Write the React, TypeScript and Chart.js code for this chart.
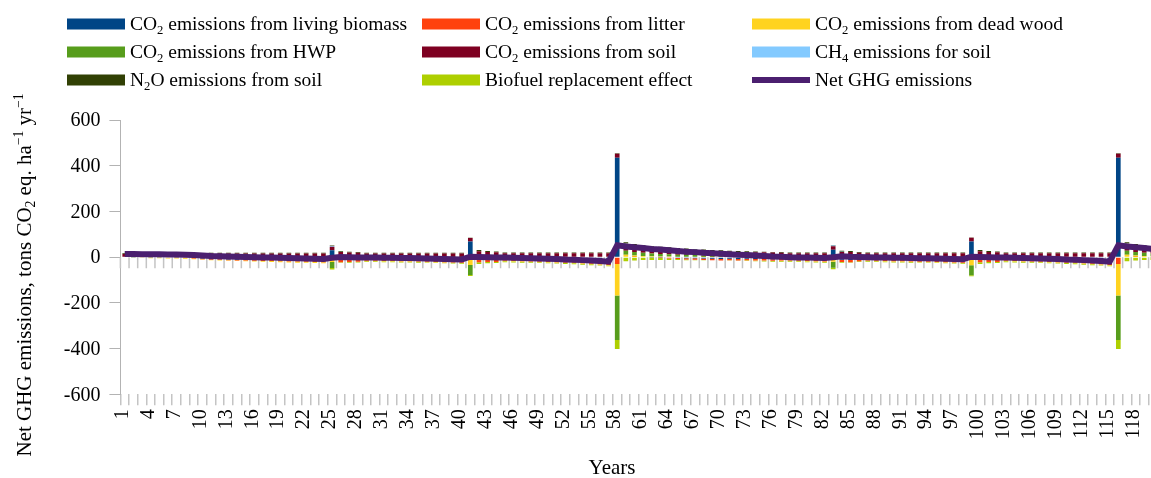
import { useEffect, useRef } from 'react';
import { Chart, registerables } from 'chart.js';

Chart.register(...registerables);

// Simulation years (x axis categories)
const years = [
  '1','2','3','4','5','6','7','8','9','10','11','12','13','14','15','16','17','18','19','20',
  '21','22','23','24','25','26','27','28','29','30','31','32','33','34','35','36','37','38','39','40',
  '41','42','43','44','45','46','47','48','49','50','51','52','53','54','55','56','57','58','59','60',
  '61','62','63','64','65','66','67','68','69','70','71','72','73','74','75','76','77','78','79','80',
  '81','82','83','84','85','86','87','88','89','90','91','92','93','94','95','96','97','98','99','100',
  '101','102','103','104','105','106','107','108','109','110','111','112','113','114','115','116','117','118','119','120',
];

// Component fluxes, tons CO2 eq. ha-1 yr-1 (positive = emission)
const livingBiomass = [
  -3, -2, -3, -2, -2, -3, -2, -3, -4, -6,
  -9, -9, -10, -11, -11, -12, -13, -13, -14, -15,
  -15, -16, -17, -18, 30, -12, -13, -13, -11, -11,
  -12, -12, -13, -13, -14, -15, -16, -17, -18, -19,
  68, -10, -10, -11, -9, -10, -11, -12, -13, -14,
  -15, -17, -18, -20, -22, -24, -27, 435, 0, 0,
  0, -1, -2, -3, -4, -5, -5, -6, -7, -8,
  -7, -8, -7, -8, -8, -9, -8, -8, -9, -10,
  -11, -12, 32, -11, -13, -10, -10, -11, -12, -13,
  -13, -14, -15, -15, -16, -17, -18, -19, 68, -10,
  -10, -11, -9, -10, -11, -12, -13, -14, -15, -17,
  -18, -20, -22, -24, -27, 435, 0, 0, 0, -1,
];
const litter = [
  0, 0, 0, 0, 0, 0, -1, -1, -2, -3,
  -3, -4, -4, -4, -4, -4, -4, -4, -4, -4,
  -4, -4, -4, -4, -4, -10, -8, -7, -5, -5,
  -5, -5, -5, -5, -5, -5, -5, -5, -5, -5,
  -5, -12, -11, -10, -7, -7, -7, -7, -7, -7,
  -7, -7, -7, -7, -7, -7, -7, -30, 2, 1,
  0, -1, -2, -3, -4, -5, -6, -7, -7, -7,
  -7, -7, -7, -7, -7, -7, -7, -7, -7, -7,
  -7, -7, -3, -10, -9, -8, -5, -5, -5, -5,
  -5, -5, -5, -5, -5, -5, -5, -5, -6, -12,
  -11, -10, -7, -7, -7, -7, -7, -7, -7, -7,
  -7, -7, -7, -7, -7, -30, 2, 1, 0, -1,
];
const deadWood = [
  0, -1, -1, -3, -3, -3, -3, -3, -3, -2,
  -2, -2, -2, -2, -3, -3, -3, -4, -4, -4,
  -5, -5, -5, -5, -17, 2, 1, 1, -2, -2,
  -2, -2, -2, -2, -2, -2, -2, -2, -2, -2,
  -29, 3, 2, 2, -2, -2, -2, -2, -2, -2,
  -2, -2, -2, -2, -2, -2, -2, -138, 8, 6,
  5, 4, 3, 3, 2, 2, 2, 1, 1, 1,
  0, 0, -1, -1, -1, -1, -2, -2, -2, -2,
  -2, -2, -17, 2, 2, 1, -2, -2, -2, -2,
  -2, -2, -2, -2, -2, -2, -2, -2, -29, 3,
  2, 2, -2, -2, -2, -2, -2, -2, -2, -2,
  -2, -2, -2, -2, -2, -138, 8, 6, 5, 4,
];
const hwp = [
  0, 0, 0, 0, 0, 0, 0, 0, 0, 0,
  0, 0, 0, 0, 0, 0, 0, 0, 0, 0,
  0, 0, 0, 0, -26, 3, 2, 2, 1, 1,
  1, 1, 1, 1, 1, 1, 1, 1, 1, 1,
  -44, 5, 4, 3, 2, 2, 2, 2, 2, 2,
  2, 2, 2, 2, 2, 2, 2, -194, 18, 16,
  14, 12, 11, 10, 9, 8, 7, 6, 5, 5,
  4, 4, 3, 3, 3, 2, 2, 2, 2, 2,
  2, 2, -26, 3, 3, 2, 1, 1, 1, 1,
  1, 1, 1, 1, 1, 1, 1, 1, -44, 5,
  4, 3, 2, 2, 2, 2, 2, 2, 2, 2,
  2, 2, 2, 2, 2, -194, 18, 16, 14, 12,
];
const soil = [
  14, 14, 14, 15, 15, 15, 15, 15, 15, 15,
  16, 16, 16, 16, 16, 16, 16, 16, 16, 16,
  16, 16, 16, 16, 16, 17, 17, 16, 15, 15,
  15, 15, 15, 15, 15, 15, 15, 15, 15, 15,
  16, 18, 17, 16, 15, 15, 15, 15, 15, 15,
  15, 15, 15, 15, 15, 15, 15, 17, 31, 29,
  28, 27, 26, 25, 24, 23, 22, 22, 21, 20,
  20, 19, 19, 18, 18, 18, 17, 15, 15, 15,
  15, 15, 16, 18, 17, 16, 16, 16, 16, 16,
  16, 16, 16, 16, 16, 16, 16, 16, 17, 18,
  17, 16, 15, 15, 15, 15, 15, 15, 15, 15,
  15, 15, 15, 15, 15, 17, 31, 29, 28, 27,
];
const ch4Soil = [
  0, 0, 0, 0, 0, 0, 0, 0, 0, 0,
  0, 0, 0, 0, 0, 0, 0, 0, 0, 0,
  0, 0, 0, 0, 3, 1, 0, 0, 0, 0,
  0, 0, 0, 0, 0, 0, 0, 0, 0, 0,
  0, 0, 0, 0, 0, 0, 0, 0, 0, 0,
  0, 0, 0, 0, 0, 0, 0, 0, 1, 1,
  1, 1, 1, 1, 1, 1, 1, 0, 0, 0,
  0, 0, 0, 0, 0, 0, 0, 0, 0, 0,
  0, 0, 3, 1, 1, 0, 0, 0, 0, 0,
  0, 0, 0, 0, 0, 0, 0, 0, 0, 0,
  0, 0, 0, 0, 0, 0, 0, 0, 0, 0,
  0, 0, 0, 0, 0, 0, 1, 1, 1, 1,
];
const n2oSoil = [
  3, 3, 3, 3, 3, 3, 3, 3, 3, 3,
  3, 3, 3, 3, 3, 3, 3, 3, 3, 3,
  3, 3, 3, 3, 2, 3, 4, 3, 3, 3,
  3, 3, 3, 3, 3, 3, 3, 3, 3, 3,
  1, 5, 4, 4, 3, 3, 3, 3, 3, 3,
  3, 3, 3, 3, 3, 3, 3, 2, 5, 5,
  4, 4, 4, 4, 4, 4, 4, 4, 4, 4,
  4, 4, 4, 4, 3, 3, 3, 3, 3, 3,
  3, 3, 2, 4, 4, 3, 3, 3, 3, 3,
  3, 3, 3, 3, 3, 3, 3, 3, 1, 5,
  4, 4, 3, 3, 3, 3, 3, 3, 3, 3,
  3, 3, 3, 3, 3, 2, 5, 5, 4, 4,
];
const biofuel = [
  0, 0, 0, 0, 0, 0, 0, 0, 0, 0,
  0, 0, 0, 0, 0, 0, 0, 0, 0, 0,
  0, 0, 0, 0, -7, -3, -3, -3, -3, -3,
  -3, -3, -3, -3, -3, -3, -3, -3, -3, -3,
  -5, -8, -6, -5, -4, -4, -4, -4, -4, -4,
  -4, -4, -4, -4, -4, -4, -4, -40, -18, -15,
  -12, -10, -8, -7, -5, -4, -3, -1, 0, 0,
  -1, -1, -2, -2, -3, -3, -3, -3, -3, -3,
  -3, -3, -7, -3, -3, -3, -3, -3, -3, -3,
  -3, -3, -3, -3, -3, -3, -3, -3, -5, -8,
  -6, -5, -4, -4, -4, -4, -4, -4, -4, -4,
  -4, -4, -4, -4, -4, -40, -18, -15, -12, -10,
];
const netGhg = [
  14, 14, 13, 13, 13, 12, 12, 11, 9, 7,
  5, 4, 3, 2, 1, 0, -1, -2, -3, -4,
  -5, -6, -7, -8, -3, 1, 0, -1, -2, -2,
  -3, -3, -4, -4, -5, -6, -7, -8, -9, -10,
  2, 1, 0, -1, -2, -3, -4, -5, -6, -7,
  -8, -10, -11, -13, -15, -17, -20, 52, 47, 43,
  40, 36, 33, 30, 27, 24, 22, 19, 17, 15,
  13, 11, 9, 7, 5, 3, 2, 0, -1, -2,
  -3, -4, 0, 4, 2, 1, 0, -1, -2, -3,
  -3, -4, -5, -5, -6, -7, -8, -9, 2, 1,
  0, -1, -2, -3, -4, -5, -6, -7, -8, -10,
  -11, -13, -15, -17, -20, 52, 47, 43, 40, 36,
];

// Value axis labels
const yTicks = [600, 400, 200, 0, -200, -400, -600];

type Seg = { t: string; sub?: boolean; sup?: boolean };

const seriesLabels: Seg[][] = [
  [{ t: 'CO' }, { t: '2', sub: true }, { t: ' emissions from living biomass' }],
  [{ t: 'CO' }, { t: '2', sub: true }, { t: ' emissions from litter' }],
  [{ t: 'CO' }, { t: '2', sub: true }, { t: ' emissions from dead wood' }],
  [{ t: 'CO' }, { t: '2', sub: true }, { t: ' emissions from HWP' }],
  [{ t: 'CO' }, { t: '2', sub: true }, { t: ' emissions from soil' }],
  [{ t: 'CH' }, { t: '4', sub: true }, { t: ' emissions for soil' }],
  [{ t: 'N' }, { t: '2', sub: true }, { t: 'O emissions from soil' }],
  [{ t: 'Biofuel replacement effect' }],
  [{ t: 'Net GHG emissions' }],
];
const seriesColors = ['#004586', '#ff420e', '#ffd320', '#579d1c', '#7e0021', '#83caff', '#314004', '#aecf00', '#4b1f6f'];
const barSeries = [livingBiomass, litter, deadWood, hwp, soil, ch4Soil, n2oSoil, biofuel];

const yTitle: Seg[] = [
  { t: 'Net GHG emissions, tons CO' }, { t: '2', sub: true }, { t: ' eq. ha' }, { t: '\u22121', sup: true },
  { t: ' yr' }, { t: '\u22121', sup: true },
];
const xTitle: Seg[] = [{ t: 'Years' }];

const FONT = "'Liberation Serif', 'Times New Roman', serif";
const LEGEND_FS = 19.5;
const TITLE_FS = 21;
const TICK_FS = 20;
const CANVAS_W = 1165;
const CANVAS_H = 478;

function drawRich(ctx: CanvasRenderingContext2D, segs: Seg[], x: number, y: number, size: number, align: 'left' | 'center') {
  const parts = segs.map((s) => {
    const fs = s.sub || s.sup ? size * 0.65 : size;
    ctx.font = `${fs}px ${FONT}`;
    return { ...s, fs, w: ctx.measureText(s.t).width };
  });
  const total = parts.reduce((a, p) => a + p.w, 0);
  let cx = align === 'center' ? x - total / 2 : x;
  ctx.textAlign = 'left';
  ctx.textBaseline = 'alphabetic';
  const base = y + size * 0.32;
  for (const p of parts) {
    ctx.font = `${p.fs}px ${FONT}`;
    const dy = p.sub ? size * 0.2 : p.sup ? -size * 0.36 : 0;
    ctx.fillText(p.t, cx, base + dy);
    cx += p.w;
  }
}

// Short tick marks hanging below the zero line, between categories
const zeroTicks = {
  id: 'zeroTicks',
  beforeDatasetsDraw(chart: any) {
    const { ctx, scales } = chart;
    const xs = scales.x;
    const ys = scales.y;
    const y0 = ys.getPixelForValue(0);
    const w = xs.getPixelForValue(1) - xs.getPixelForValue(0);
    const start = xs.getPixelForValue(0) - w / 2;
    ctx.save();
    ctx.strokeStyle = '#c4c4c4';
    ctx.lineWidth = 1.5;
    ctx.beginPath();
    for (let i = 0; i <= years.length; i++) {
      const x = start + i * w;
      ctx.moveTo(x, y0);
      ctx.lineTo(x, y0 + 11);
    }
    ctx.stroke();
    ctx.restore();
  },
};

// Axis tick labels, legend block and axis titles (serif, with sub/superscripts)
const annotations = {
  id: 'annotations',
  afterDraw(chart: any) {
    const ctx: CanvasRenderingContext2D = chart.ctx;
    const xs = chart.scales.x;
    const ys = chart.scales.y;
    ctx.save();
    ctx.fillStyle = '#000';
    ctx.font = `${TICK_FS}px ${FONT}`;

    // value axis labels
    ctx.textAlign = 'right';
    ctx.textBaseline = 'middle';
    yTicks.forEach((v) => {
      ctx.fillText(String(v), ys.left + ys.width - 20, ys.getPixelForValue(v) + 1);
    });

    // year labels, every third year, reading upwards
    years.forEach((label, i) => {
      if (i % 3 !== 0) return;
      const x = xs.getPixelForValue(i);
      ctx.save();
      ctx.translate(x - 2, xs.top + 15);
      ctx.rotate(-Math.PI / 2);
      ctx.textAlign = 'right';
      ctx.textBaseline = 'middle';
      ctx.fillText(label, 0, 0);
      ctx.restore();
    });

    // legend
    const cols = [67, 422, 752];
    const rows = [24, 52, 80];
    seriesLabels.forEach((label, i) => {
      const cx = cols[i % 3];
      const cy = rows[Math.floor(i / 3)];
      ctx.fillStyle = seriesColors[i];
      if (i === 8) ctx.fillRect(cx, cy - 3, 58, 6);
      else ctx.fillRect(cx, cy - 5.5, 58, 11);
      ctx.fillStyle = '#000';
      drawRich(ctx, label, cx + 63, cy, LEGEND_FS, 'left');
    });

    // axis titles
    ctx.save();
    ctx.translate(24, 275);
    ctx.rotate(-Math.PI / 2);
    drawRich(ctx, yTitle, 0, 0, TITLE_FS, 'center');
    ctx.restore();
    drawRich(ctx, xTitle, 612, 467, TITLE_FS, 'center');
    ctx.restore();
  },
};

export default function App() {
  const ref = useRef<HTMLCanvasElement | null>(null);

  useEffect(() => {
    const canvas = ref.current;
    if (!canvas) return;
    const datasets: any[] = barSeries.map((data, i) => ({
      type: 'bar',
      label: seriesLabels[i].map((s) => s.t).join(''),
      data,
      backgroundColor: seriesColors[i],
      borderWidth: 0,
      barPercentage: 0.54,
      categoryPercentage: 1,
      stack: 'ghg',
      order: 1,
    }));
    datasets.push({
      type: 'line',
      label: 'Net GHG emissions',
      data: netGhg,
      borderColor: seriesColors[8],
      backgroundColor: seriesColors[8],
      borderWidth: 6,
      pointRadius: 0,
      tension: 0,
      fill: false,
      stack: 'net',
      order: 0,
    });

    const chart = new Chart(canvas, {
      type: 'bar',
      data: { labels: years, datasets },
      plugins: [zeroTicks, annotations],
      options: {
        responsive: false,
        devicePixelRatio: 1,
        animation: false,
        layout: { padding: { top: 120, right: CANVAS_W - 1157.2, left: 0, bottom: 0 } },
        plugins: { legend: { display: false }, tooltip: { enabled: false } },
        scales: {
          x: {
            stacked: true,
            offset: true,
            border: { display: false },
            grid: { display: true, drawOnChartArea: false, drawTicks: true, tickLength: 11, offset: true, color: '#c4c4c4', lineWidth: 1.5 },
            ticks: { display: false, autoSkip: false },
            afterFit: (scale: any) => { scale.height = CANVAS_H - 394.3; },
          },
          y: {
            stacked: true,
            min: -600,
            max: 600,
            border: { display: true, color: '#b3b3b3', width: 1 },
            grid: { display: true, drawOnChartArea: false, drawTicks: true, tickLength: 11, color: '#b3b3b3' },
            ticks: { display: false, stepSize: 200 },
            afterFit: (scale: any) => { scale.width = 120.4; },
          },
        },
      },
    } as any);
    return () => chart.destroy();
  }, []);

  return (
    <div style={{ position: 'fixed', left: 0, top: 0, width: 1151, height: 478, overflow: 'hidden', background: '#fff' }}>
      <canvas ref={ref} width={CANVAS_W} height={CANVAS_H} style={{ display: 'block' }} />
    </div>
  );
}
